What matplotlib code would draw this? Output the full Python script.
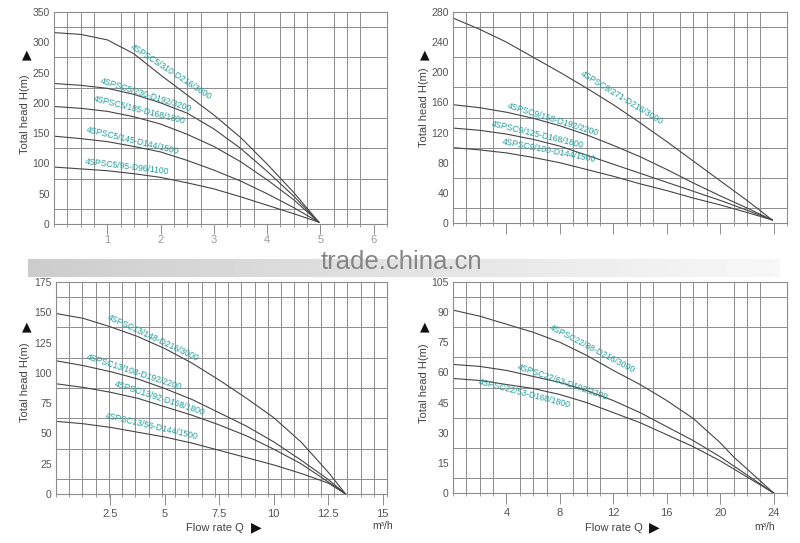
import matplotlib
matplotlib.use("Agg")
import matplotlib.pyplot as plt
import numpy as np

plt.rcParams["font.family"] = ["Liberation Sans", "DejaVu Sans"]

# ---- 4SPSC5 (top left) ----
q5 = [0, 0.5, 1, 1.5, 2, 2.5, 3, 3.5, 4, 4.5, 4.97]
h5 = {
    "4SPSC5/310-D216/3000": [316, 313, 304, 281, 246, 213, 180, 143, 99, 52, 3],
    "4SPSC5/230-D192/3200": [232, 229, 224, 214, 200, 183, 157, 125, 87, 46, 3],
    "4SPSC5/185-D168/1800": [194, 191, 186, 177, 165, 148, 128, 103, 73, 40, 3],
    "4SPSC5/145-D144/1500": [145, 141, 136, 128, 119, 105, 89, 71, 50, 27, 3],
    "4SPSC5/95-D96/1100": [94, 91, 88, 83, 77, 68, 58, 45, 31, 17, 3],
}
# ---- 4SPSC9 (top right) ----
q9 = [0, 2, 4, 6, 8, 10, 12, 14, 16, 18, 20, 22, 23.9]
h9 = {
    "4SPSC9/271-D216/3000": [272, 257, 240, 220, 200, 179, 157, 133, 108, 82, 56, 30, 4],
    "4SPSC9/158-D192/2200": [157, 153, 147, 139, 129, 117, 103, 88, 71, 53, 36, 20, 4],
    "4SPSC9/125-D168/1800": [126, 123, 118, 111, 102, 90, 78, 66, 54, 42, 30, 17, 4],
    "4SPSC9/100-D144/1500": [100, 97, 93, 87, 80, 71, 62, 52, 43, 33, 24, 14, 4],
}
# ---- 4SPSC13 (bottom left) ----
q13 = [0, 1.25, 2.5, 3.75, 5, 6.25, 7.5, 8.75, 10, 11.25, 12.5, 13.3]
h13 = {
    "4SPSC13/148-D216/3000": [149, 145, 138, 130, 120, 108, 94, 79, 63, 43, 18, 0],
    "4SPSC13/108-D192/2200": [110, 106, 101, 95, 87, 78, 67, 56, 43, 28, 12, 0],
    "4SPSC13/92-D168/1800": [91, 88, 84, 79, 72, 65, 57, 48, 37, 25, 10, 0],
    "4SPSC13/56-D144/1500": [60, 58, 55, 51, 47, 42, 36, 30, 24, 17, 9, 0],
}
# ---- 4SPSC22 (bottom right) ----
q22 = [0, 2, 4, 6, 8, 10, 12, 14, 16, 18, 20, 21, 22, 23, 24]
h22 = {
    "4SPSC22/88-D216/3000": [91, 88, 84, 80, 75, 68.5, 61, 54, 46, 37, 25, 18, 12, 6, 0],
    "4SPSC22/63-D192/2200": [64, 63, 61, 58, 55, 51, 46, 40, 33, 26, 18, 13.5, 9, 4.5, 0],
    "4SPSC22/53-D168/1800": [57, 56, 54, 52, 49, 45, 40, 35, 29, 23, 16, 12, 8, 4, 0],
}

# label anchor (x, H) and screen angle for each curve name
labels5 = [(2.20, 248, 33), (1.73, 210, 17.5), (1.61, 185, 14), (1.48, 134, 13.5), (1.37, 92, 7)]
labels9 = [(12.65, 163, 31.5), (7.49, 134, 17), (6.36, 115, 13.5), (7.19, 93, 11)]
labels13 = [(4.45, 127, 25), (3.58, 99, 18), (4.77, 77, 18), (4.40, 54.5, 13)]
labels22 = [(10.40, 70.7, 27.5), (8.23, 54.2, 19), (5.31, 48.3, 14.5)]

grid_c = "#8c8c8c"
curve_c = "#454545"
label_c = "#1f9c9c"
tick_c = "#555555"

fig = plt.figure(figsize=(8, 5.43), dpi=100)

# watermark band
band = fig.add_axes([0.035, (543 - 277) / 543, 0.94, 18 / 543])
grad = np.linspace(0.78, 0.97, 200).reshape(1, -1)
band.imshow(grad, aspect="auto", cmap="gray", vmin=0, vmax=1, alpha=0.9)
band.axis("off")


def panel(rect, q, curves, labels, xmax, ymax, yticks, xticks, xlabels,
          xlab_color, tlen=8, tpad=3):
    ax = fig.add_axes(rect)
    for (name, h), (lx, ly, ang) in zip(curves.items(), labels):
        ax.plot(q, h, color=curve_c, lw=0.8)
        ax.annotate(name, (lx, ly), xytext=(0, 1.5), textcoords="offset points",
                    rotation=-ang, rotation_mode="anchor", ha="center",
                    va="center", fontsize=6.2, color=label_c)
    ax.set_xlim(0, xmax)
    ax.set_ylim(0, ymax)
    ax.set_xticks(np.linspace(0, xmax, 26), minor=True)
    ax.set_yticks(np.linspace(0, ymax, 15), minor=True)
    ax.grid(which="minor", color=grid_c, lw=0.7)
    ax.set_xticks(xticks)
    ax.set_xticklabels(xlabels)
    ax.set_yticks(yticks)
    ax.tick_params(axis="x", which="major", length=tlen, width=0.7, color=grid_c,
                   labelsize=8, labelcolor=xlab_color, pad=tpad)
    ax.tick_params(axis="x", which="minor", length=2.5, width=0.6, color=grid_c)
    ax.tick_params(axis="y", which="both", length=0, labelsize=7.5,
                   labelcolor=tick_c, pad=3)
    for s in ax.spines.values():
        s.set_color(grid_c)
        s.set_linewidth(0.8)
    ax.set_axisbelow(True)
    return ax


panel([54 / 800, 319 / 543, 333 / 800, 212 / 543], q5, h5, labels5, 6.25, 350,
      [0, 50, 100, 150, 200, 250, 300, 350], [1, 2, 3, 4, 5, 6],
      ["1", "2", "3", "4", "5", "6"], "#9a9a9a", tlen=7, tpad=1)
panel([453 / 800, 320 / 543, 334 / 800, 211 / 543], q9, h9, labels9, 25, 280,
      [0, 40, 80, 120, 160, 200, 240, 280], [4, 8, 12, 16, 20, 24],
      [""] * 6, tick_c)
panel([56 / 800, 49 / 543, 331 / 800, 212 / 543], q13, h13, labels13, 15.2, 175,
      [0, 25, 50, 75, 100, 125, 150, 175], [2.5, 5, 7.5, 10, 12.5, 15],
      ["2.5", "5", "7.5", "10", "12.5", "15"], tick_c)
panel([453 / 800, 50 / 543, 334 / 800, 211 / 543], q22, h22, labels22, 25, 105,
      [0, 15, 30, 45, 60, 75, 90, 105], [4, 8, 12, 16, 20, 24],
      ["4", "8", "12", "16", "20", "24"], tick_c)

# axis titles and arrows (figure pixel positions)
W, H = 800, 543
for x, y in [(25, 114), (424, 107), (25, 382), (424, 383)]:
    fig.text(x / W, 1 - y / H, "Total head H(m)", rotation=90, ha="center",
             va="center", fontsize=8, color="#444444")
for x, y in [(27, 55), (425, 55), (27, 327), (425, 327)]:
    fig.text(x / W, 1 - y / H, "▲", ha="center", va="center", fontsize=9,
             color="#111111", family="DejaVu Sans")
for x, y in [(215, 528), (614, 528)]:
    fig.text(x / W, 1 - y / H, "Flow rate Q", ha="center", va="center",
             fontsize=8, color="#444444")
for x, y in [(256, 527), (654, 527)]:
    fig.text(x / W, 1 - y / H, "▶", ha="center", va="center", fontsize=10,
             color="#111111", family="DejaVu Sans")
for x, y in [(383, 526), (765, 527)]:
    fig.text(x / W, 1 - y / H, "m³/h", ha="center", va="center",
             fontsize=7.5, color="#444444")

fig.text(401 / W, 1 - 262 / H, "trade.china.cn", ha="center", va="center",
         fontsize=18.5, color="#858585",
         family=["Liberation Sans Narrow", "Liberation Sans", "DejaVu Sans"])

fig.savefig("out.png", dpi=100, facecolor="white")
